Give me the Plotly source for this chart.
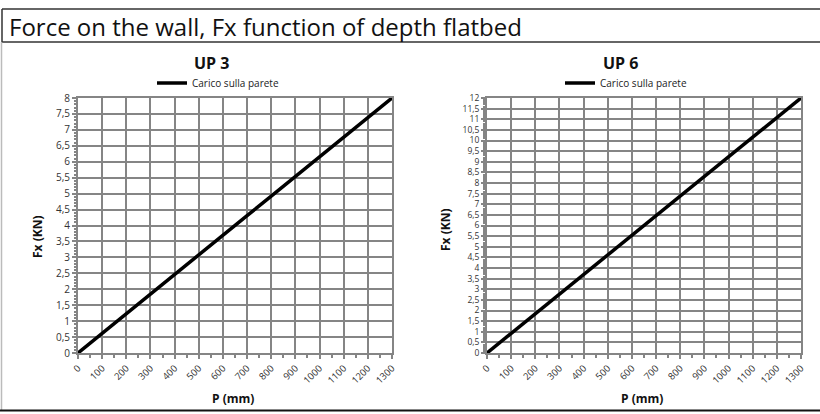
import plotly.graph_objects as go

# ---- data ----
depth_mm = [0, 100, 200, 300, 400, 500, 600, 700, 800, 900, 1000, 1100, 1200, 1300]
fx_up3 = [0, 0.62, 1.23, 1.85, 2.46, 3.08, 3.69, 4.31, 4.92, 5.54, 6.15, 6.77, 7.38, 8.0]
fx_up6 = [0, 0.92, 1.85, 2.77, 3.69, 4.62, 5.54, 6.46, 7.38, 8.31, 9.23, 10.15, 11.08, 12.0]
x_ticks = [0, 100, 200, 300, 400, 500, 600, 700, 800, 900, 1000, 1100, 1200, 1300]
y_ticks_up3 = [i * 0.5 for i in range(17)]
y_ticks_up6 = [i * 0.5 for i in range(25)]
series_name = "Carico sulla parete"
main_title = "Force on the wall, Fx function of depth flatbed"
chart_titles = ["UP 3", "UP 6"]
x_title = "P (mm)"
y_title = "Fx (KN)"

W, H = 820, 414
FONT = "Open Sans"
GRID = "#858585"


def px(x):
    return x / W


def py(y):
    return 1 - y / H


def lab(v):
    s = ("%g" % v)
    return s.replace(".", ",")


fig = go.Figure()
fig.add_trace(go.Scatter(x=depth_mm, y=fx_up3, mode="lines", name=series_name,
                         line=dict(color="black", width=3.5), xaxis="x", yaxis="y",
                         legend="legend"))
fig.add_trace(go.Scatter(x=depth_mm, y=fx_up6, mode="lines", name=series_name,
                         line=dict(color="black", width=3.5), xaxis="x2", yaxis="y2",
                         legend="legend2"))

ydom = [py(353), py(98)]


def xaxis(dom, anchor):
    return dict(domain=dom, range=[0, 1300], tickvals=x_ticks, ticktext=[str(v) for v in x_ticks],
                tickangle=-45, showgrid=True, gridcolor=GRID, gridwidth=2, anchor=anchor,
                showline=True, linecolor=GRID, linewidth=2, mirror=True,
                ticks="outside", ticklen=4, tickcolor=GRID, tickwidth=1.5,
                minor=dict(dtick=50, tick0=0, ticks="outside", ticklen=3, tickcolor=GRID, showgrid=False),
                tickfont=dict(family=FONT, size=9.5, color="#333"),
                title=dict(text=""), zeroline=False, fixedrange=True, automargin=False)


def yaxis(dom, ticks, top, anchor, fs):
    return dict(domain=dom, range=[0, top], tickvals=ticks, ticktext=[lab(v) for v in ticks],
                showgrid=True, gridcolor=GRID, gridwidth=2, anchor=anchor,
                showline=True, linecolor=GRID, linewidth=2, mirror=True,
                ticks="outside", ticklen=4, tickcolor=GRID, tickwidth=1.5,
                minor=dict(dtick=0.1, tick0=0, ticks="outside", ticklen=2, tickcolor=GRID, showgrid=False),
                tickfont=dict(family=FONT, size=fs, color="#333"),
                zeroline=False, fixedrange=True, automargin=False)


fig.update_layout(
    width=W, height=H, margin=dict(l=0, r=0, t=0, b=0, autoexpand=False),
    paper_bgcolor="white", plot_bgcolor="white",
    xaxis=xaxis([px(78), px(392)], "y"),
    yaxis=yaxis(ydom, y_ticks_up3, 8, "x", 10),
    xaxis2=xaxis([px(487), px(801)], "y2"),
    yaxis2=yaxis(ydom, y_ticks_up6, 12, "x2", 8.5),
    legend=dict(x=px(152), y=py(83), xanchor="left", yanchor="middle", itemwidth=30,
                font=dict(family=FONT, size=10, color="#222"), bgcolor="rgba(0,0,0,0)"),
    legend2=dict(x=px(560), y=py(83), xanchor="left", yanchor="middle", itemwidth=30,
                 font=dict(family=FONT, size=10, color="#222"), bgcolor="rgba(0,0,0,0)"),
    showlegend=True,
)

ann = []
ann.append(dict(text=main_title, x=px(7), y=py(26), xref="paper", yref="paper", xanchor="left",
                yanchor="middle", showarrow=False, font=dict(family=FONT, size=24, color="#111")))
for t, cx in zip(chart_titles, [211, 620]):
    ann.append(dict(text="<b>%s</b>" % t, x=px(cx), y=py(63), xref="paper", yref="paper",
                    xanchor="center", yanchor="middle", showarrow=False,
                    font=dict(family=FONT, size=16, color="#111")))
for cx in [233, 642]:
    ann.append(dict(text="<b>%s</b>" % x_title, x=px(cx), y=py(398), xref="paper", yref="paper",
                    xanchor="center", yanchor="middle", showarrow=False,
                    font=dict(family=FONT, size=12, color="#111")))
for cx, cy in [(37, 237), (445, 230)]:
    ann.append(dict(text="<b>%s</b>" % y_title, x=px(cx), y=py(cy), xref="paper", yref="paper",
                    xanchor="center", yanchor="middle", showarrow=False, textangle=-90,
                    font=dict(family=FONT, size=12, color="#111")))
fig.update_layout(annotations=ann)

shapes = [
    dict(type="line", xref="paper", yref="paper", x0=px(2), x1=1, y0=py(9), y1=py(9),
         line=dict(color="#333", width=1.5)),
    dict(type="line", xref="paper", yref="paper", x0=px(2), x1=1, y0=py(42), y1=py(42),
         line=dict(color="#333", width=1.5)),
    dict(type="line", xref="paper", yref="paper", x0=px(2), x1=px(2), y0=py(9), y1=py(42),
         line=dict(color="#333", width=1.5)),
    dict(type="line", xref="paper", yref="paper", x0=px(1.5), x1=px(1.5), y0=py(42), y1=py(410),
         line=dict(color="#bbb", width=1.5)),
    dict(type="line", xref="paper", yref="paper", x0=0, x1=1, y0=py(410.5), y1=py(410.5),
         line=dict(color="#111", width=2)),
]
fig.update_layout(shapes=shapes)

fig.write_html("out.html", config={"displayModeBar": False},
               post_script="document.body.style.margin='0';document.body.style.overflow='hidden';")
